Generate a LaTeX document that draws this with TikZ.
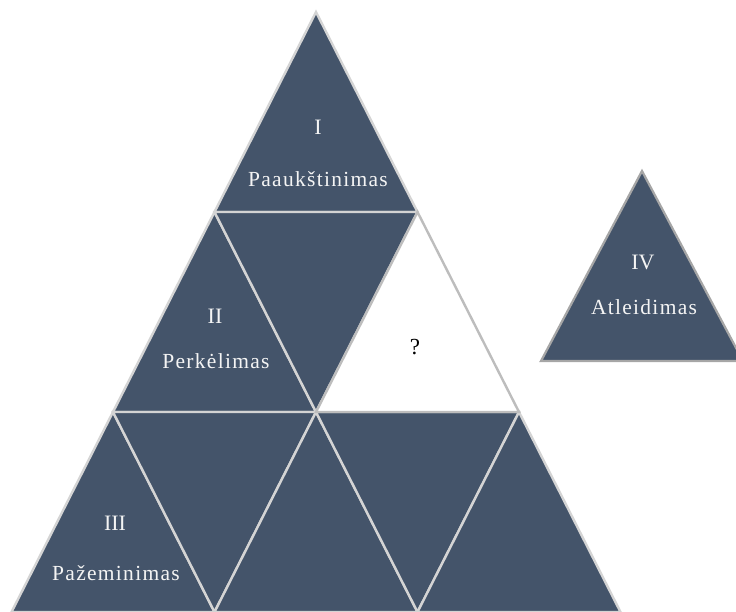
\documentclass[tikz,border=0pt]{standalone}
\usepackage{fontspec}
\setmainfont{Liberation Serif}
\newfontfamily\lbl[LetterSpace=6]{Liberation Serif}
\definecolor{slate}{HTML}{44546A}
\definecolor{edge}{HTML}{D4D4D4}
\definecolor{qedge}{HTML}{BDBDBD}
\definecolor{txt}{HTML}{F4F4F4}
\begin{document}
\begin{tikzpicture}[x=1pt,y=-1pt,
  darktri/.style={fill=slate,draw=edge,line width=2.4pt,line join=miter},
  whitetri/.style={fill=white,draw=qedge,line width=2.4pt,line join=miter},
  lab/.style={text=txt,font=\lbl\fontsize{21.5}{24}\selectfont,inner sep=0pt},
  num/.style={text=txt,font=\fontsize{22}{24}\selectfont,inner sep=0pt},
  qlab/.style={text=black,font=\fontsize{23}{24}\selectfont,inner sep=0pt}]
\useasboundingbox (0,0) rectangle (736,611);
% lattice points
\coordinate (a) at (316,12);
\coordinate (b1) at (214.5,212); \coordinate (b2) at (417.5,212);
\coordinate (c1) at (113,412); \coordinate (c2) at (316,412); \coordinate (c3) at (519,412);
\coordinate (d1) at (11.5,612); \coordinate (d2) at (214.5,612); \coordinate (d3) at (417.5,612); \coordinate (d4) at (620.5,612);
% row 1
\draw[darktri] (a) -- (b1) -- (b2) -- cycle;
% row 2
\draw[darktri] (b1) -- (c1) -- (c2) -- cycle;
\draw[darktri] (b1) -- (b2) -- (c2) -- cycle;
% row 3
\draw[darktri] (c1) -- (d1) -- (d2) -- cycle;
\draw[darktri] (c1) -- (c2) -- (d2) -- cycle;
\draw[darktri] (c2) -- (d2) -- (d3) -- cycle;
\draw[darktri] (c2) -- (c3) -- (d3) -- cycle;
\draw[darktri] (c3) -- (d3) -- (d4) -- cycle;
% white triangle
\draw[whitetri] (b2) -- (c2) -- (c3) -- cycle;
% separate triangle IV
\coordinate (e) at (642,171);
\coordinate (e1) at (541,361); \coordinate (e2) at (743,361);
\draw[fill=slate,draw=gray!70,line width=2.2pt] (e) -- (e1) -- (e2) -- cycle;
% labels
\node[num] (n1) at (318,127) {I};
\node[lab] (t1) at (318,179) {Paaukštinimas};
\node[num] (n2) at (215,316) {II};
\node[lab] (t2) at (216,361) {Perkėlimas};
\node[qlab] (q) at (415,347) {?};
\node[num] (n3) at (115,523) {III};
\node[lab] (t3) at (116,573) {Pažeminimas};
\node[num] (n4) at (643,262) {IV};
\node[lab] (t4) at (644,307) {Atleidimas};
\end{tikzpicture}
\end{document}
